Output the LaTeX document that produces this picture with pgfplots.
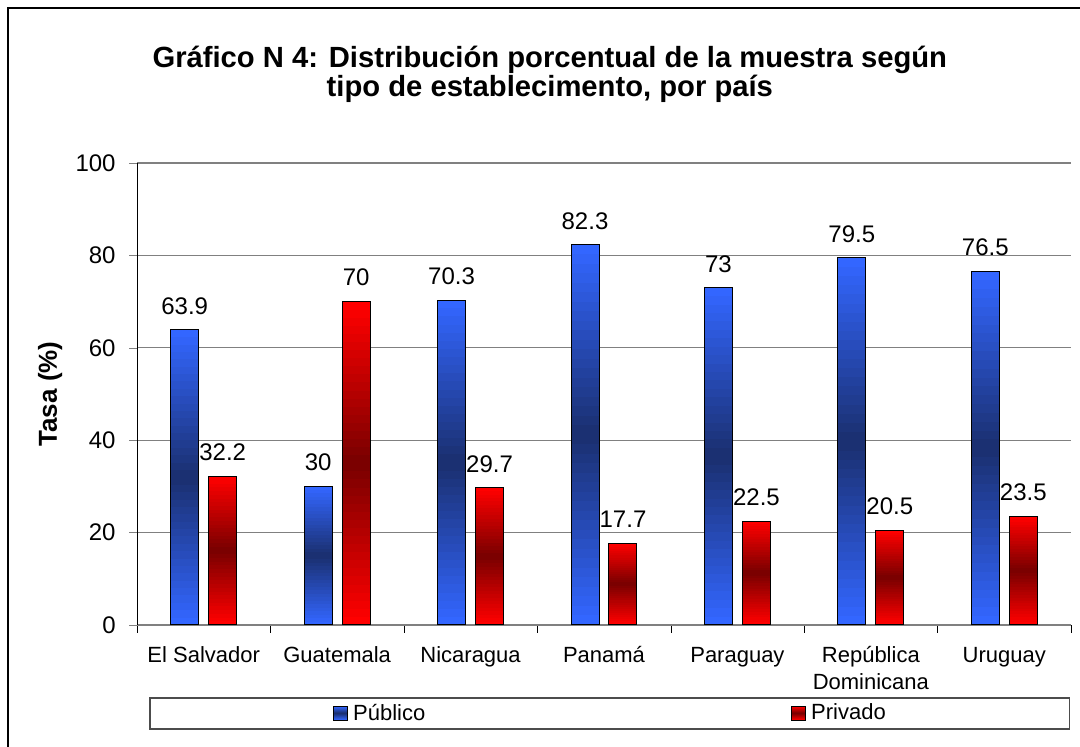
\documentclass[border=0pt]{standalone}
\usepackage{pgfplots}
\pgfplotsset{compat=1.18}
\usetikzlibrary{calc}
\usepackage{fontspec}
\setmainfont{Liberation Sans}

\definecolor{azulClaro}{HTML}{3366FF}
\definecolor{azulOscuro}{HTML}{1A2F6E}
\definecolor{rojoClaro}{HTML}{FF0000}
\definecolor{rojoOscuro}{HTML}{780000}
\definecolor{rejilla}{HTML}{808080}

% vertical light-dark-light gradient, built from thin bands
\tikzset{degradado/.style 2 args={fill=#1, path picture={
  \foreach \k in {0,...,39}{
    \pgfmathsetmacro\p{100*(1-abs(\k-19.5)/19.5)}
    \fill[path picture={}, draw=none, #2!\p!#1]
      ($(path picture bounding box.north west)!{\k/40}!(path picture bounding box.south west)$)
      rectangle
      ($(path picture bounding box.north east)!{(\k+1.1)/40}!(path picture bounding box.south east)$);
  }}}}

% one bar: left x, right x, value, outer colour, middle colour
\newcommand{\barra}[5]{%
  \addplot[forget plot, draw=black, line width=0.5pt, degradado={#4}{#5}]
    coordinates {(#1,0) (#1,#3) (#2,#3) (#2,0)} -- cycle;}

\begin{document}
\begin{tikzpicture}
\path[use as bounding box] (0,0) rectangle (540pt,373.5pt);
\draw[line width=1pt] (4pt,0) -- (4pt,369.5pt) -- (540pt,369.5pt);
\begin{axis}[
  at={(68.5pt,61pt)}, anchor=south west,
  scale only axis, width=467pt, height=231pt,
  ymin=0, ymax=100, ytick={0,20,...,100},
  xmin=-0.5, xmax=6.5,
  xtick={0,...,6},
  xticklabels={El Salvador,Guatemala,Nicaragua,Panamá,Paraguay,
    {\begin{tabular}[t]{@{}c@{}}República\\Dominicana\end{tabular}},Uruguay},
  minor xtick={-0.5,0.5,...,6.5},
  major x tick style={draw=none},
  minor x tick style={black},
  tick align=outside,
  major tick length=4pt, minor tick length=4pt,
  axis x line*=bottom, axis y line*=left,
  x axis line style={rejilla,-},
  y axis line style={black,-},
  ymajorgrids, grid style={rejilla, line width=0.6pt},
  /pgf/number format/assume math mode=true,
  yticklabel style={font=\fontsize{12}{14}\selectfont, anchor=east, inner sep=0pt, xshift=-6.5pt},
  xticklabel style={font=\fontsize{11}{13.5}\selectfont, anchor=base, inner sep=0pt, yshift=-15pt},
  ylabel={\textbf{Tasa (\%)}},
  ylabel style={at={(axis description cs:-0.0931,0.5)}, anchor=center, rotate=0, font=\fontsize{13}{15}\selectfont},
  title={Gráfico N 4: Distribución porcentual de la muestra según\\tipo de establecimento, por país},
  title style={at={(axis description cs:0.442,1.119)}, anchor=base, yshift=0pt, align=center, inner sep=0pt, font=\bfseries\fontsize{14.6}{14.5}\selectfont},
  every node near coord/.append style={font=\fontsize{12}{14}\selectfont, black, inner sep=0pt, anchor=south, yshift=7.5pt},
  legend columns=2,
  legend image code/.code={\draw[#1, line width=0.4pt] (0pt,-3.5pt) rectangle (7pt,3.5pt);},
  legend style={at={(axis description cs:0.506,-0.1916)}, anchor=center,
    draw=black!70, line width=0.75pt, inner xsep=91.75pt, inner ysep=3pt,
    font=\fontsize{11}{13}\selectfont,
    nodes={inner sep=0pt},
    /tikz/every odd column/.append style={column sep=2.5pt},
    /tikz/every even column/.append style={column sep=183pt}},
]
% Público bars (left of each country)
\barra{-0.247}{-0.037}{63.9}{azulClaro}{azulOscuro}
\barra{0.753}{0.963}{30}{azulClaro}{azulOscuro}
\barra{1.753}{1.963}{70.3}{azulClaro}{azulOscuro}
\barra{2.753}{2.963}{82.3}{azulClaro}{azulOscuro}
\barra{3.753}{3.963}{73}{azulClaro}{azulOscuro}
\barra{4.753}{4.963}{79.5}{azulClaro}{azulOscuro}
\barra{5.753}{5.963}{76.5}{azulClaro}{azulOscuro}
% Privado bars (right of each country)
\barra{0.037}{0.247}{32.2}{rojoClaro}{rojoOscuro}
\barra{1.037}{1.247}{70}{rojoClaro}{rojoOscuro}
\barra{2.037}{2.247}{29.7}{rojoClaro}{rojoOscuro}
\barra{3.037}{3.247}{17.7}{rojoClaro}{rojoOscuro}
\barra{4.037}{4.247}{22.5}{rojoClaro}{rojoOscuro}
\barra{5.037}{5.247}{20.5}{rojoClaro}{rojoOscuro}
\barra{6.037}{6.247}{23.5}{rojoClaro}{rojoOscuro}
% value labels
\addplot[forget plot, only marks, mark=none, nodes near coords,
  nodes near coords style={xshift=-9.5pt}]
  coordinates {(0,63.9) (1,30) (2,70.3) (3,82.3) (4,73) (5,79.5) (6,76.5)};
\addplot[forget plot, only marks, mark=none, nodes near coords,
  nodes near coords style={xshift=9.5pt}]
  coordinates {(0,32.2) (1,70) (2,29.7) (3,17.7) (4,22.5) (5,20.5) (6,23.5)};
\addlegendimage{draw=black, degradado={azulClaro}{azulOscuro}}
\addlegendentry{Público}
\addlegendimage{draw=black, degradado={rojoClaro}{rojoOscuro}}
\addlegendentry{Privado}
\end{axis}
\end{tikzpicture}
\end{document}
